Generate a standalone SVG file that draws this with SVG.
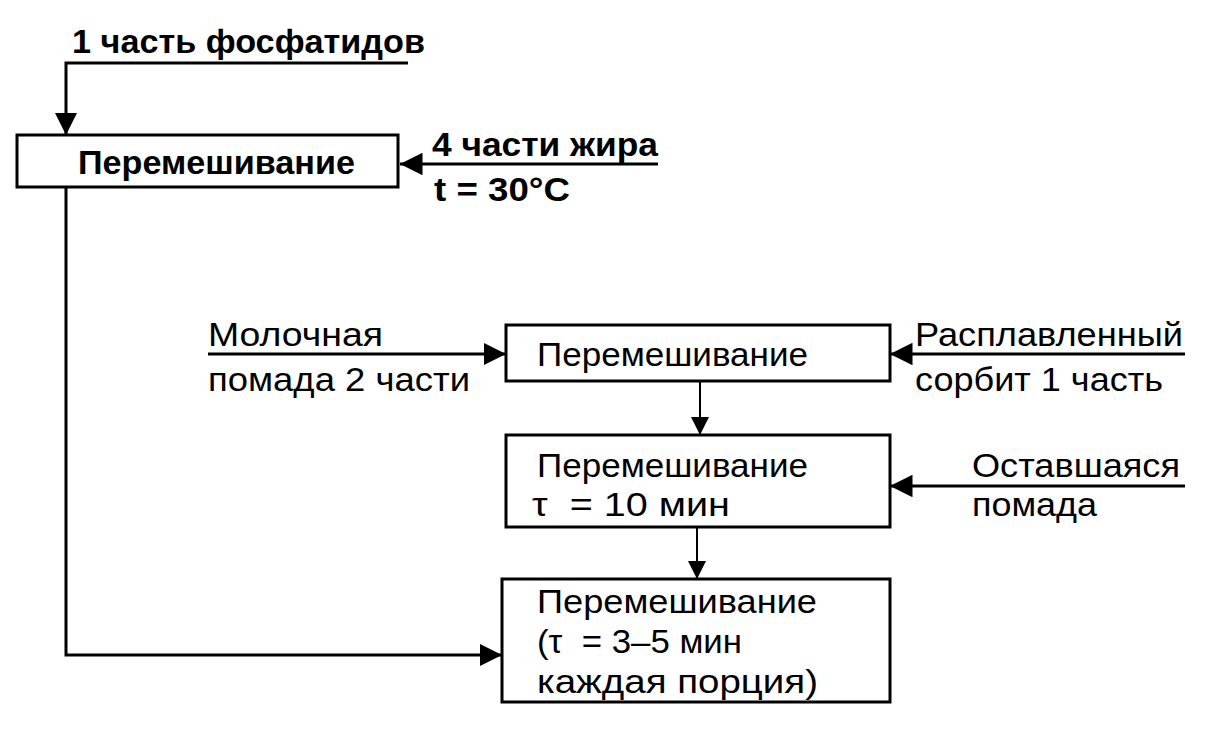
<svg xmlns="http://www.w3.org/2000/svg" width="1205" height="729" viewBox="0 0 1205 729">
<defs>
<style>
text{font-family:"Liberation Sans",Arial,sans-serif;font-size:33px;fill:#000}
.b{font-weight:bold}
.box{fill:#fff;stroke:#000;stroke-width:3}
.ln{fill:none;stroke:#000;stroke-width:3}
.thin{fill:none;stroke:#000;stroke-width:2}
</style>
<marker id="ah" viewBox="0 0 10 10" refX="10" refY="5" markerWidth="7.5" markerHeight="7.5" markerUnits="strokeWidth" orient="auto"><path d="M0,0L10,5L0,10z" fill="#000"/></marker>
<marker id="ah2" viewBox="0 0 10 10" refX="10" refY="5" markerWidth="9" markerHeight="9" markerUnits="strokeWidth" orient="auto"><path d="M0,0L10,5L0,10z" fill="#000"/></marker>
</defs>
<rect width="1205" height="729" fill="#fff"/>
<g id="connectors">
<path class="ln" d="M408,63H66V135" marker-end="url(#ah)"/>
<path class="ln" d="M658,164H400" marker-end="url(#ah)"/>
<path class="ln" d="M66,187V655H502" marker-end="url(#ah)"/>
<path class="ln" d="M208,354H506" marker-end="url(#ah)"/>
<path class="ln" d="M1185,354H890" marker-end="url(#ah)"/>
<path class="thin" d="M700,381V435" marker-end="url(#ah2)"/>
<path class="ln" d="M1185,486H890" marker-end="url(#ah)"/>
<path class="thin" d="M697,527V579" marker-end="url(#ah2)"/>
</g>
<g id="labels">
<text class="b" x="72" y="53" textLength="353" lengthAdjust="spacingAndGlyphs">1 часть фосфатидов</text>
<text class="b" x="432" y="156" textLength="226" lengthAdjust="spacingAndGlyphs">4 части жира</text>
<text class="b" x="434" y="201" textLength="136" lengthAdjust="spacingAndGlyphs">t = 30°C</text>
<text x="208" y="346" textLength="175" lengthAdjust="spacingAndGlyphs">Молочная</text>
<text x="208" y="391" textLength="262" lengthAdjust="spacingAndGlyphs">помада 2 части</text>
<text x="915" y="346" textLength="268" lengthAdjust="spacingAndGlyphs">Расплавленный</text>
<text x="915" y="391" textLength="248" lengthAdjust="spacingAndGlyphs">сорбит 1 часть</text>
<text x="972" y="477" textLength="208" lengthAdjust="spacingAndGlyphs">Оставшаяся</text>
<text x="972" y="516" textLength="125" lengthAdjust="spacingAndGlyphs">помада</text>
</g>
<g id="n1">
<rect class="box" x="17" y="135" width="381" height="52"/>
<text class="b" x="78" y="174" textLength="277" lengthAdjust="spacingAndGlyphs">Перемешивание</text>
</g>
<g id="n2">
<rect class="box" x="506" y="325" width="384" height="56"/>
<text x="537" y="366" textLength="271" lengthAdjust="spacingAndGlyphs">Перемешивание</text>
</g>
<g id="n3">
<rect class="box" x="506" y="435" width="384" height="92"/>
<text x="537" y="477" textLength="271" lengthAdjust="spacingAndGlyphs">Перемешивание</text>
<text x="532" y="516" xml:space="preserve" textLength="198" lengthAdjust="spacingAndGlyphs">τ  = 10 мин</text>
</g>
<g id="n4">
<rect class="box" x="502" y="579" width="388" height="123"/>
<text x="537" y="613" textLength="280" lengthAdjust="spacingAndGlyphs">Перемешивание</text>
<text x="537" y="653" xml:space="preserve" textLength="205" lengthAdjust="spacingAndGlyphs">(τ  = 3–5 мин</text>
<text x="537" y="693" textLength="281" lengthAdjust="spacingAndGlyphs">каждая порция)</text>
</g>
</svg>
